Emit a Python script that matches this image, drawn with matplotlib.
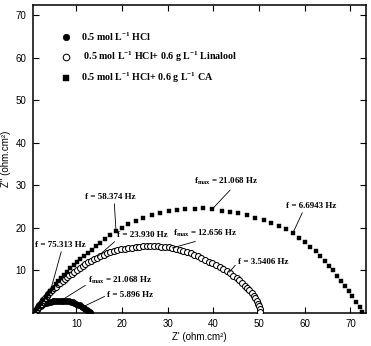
import matplotlib
matplotlib.use("Agg")
import matplotlib.pyplot as plt

plt.rcParams['mathtext.fontset'] = 'custom'
plt.rcParams['mathtext.rm'] = 'Liberation Serif:bold'
plt.rcParams['mathtext.bf'] = 'Liberation Serif:bold'
plt.rcParams['mathtext.it'] = 'Liberation Serif:bold'
plt.rcParams['mathtext.default'] = 'bf'

# ---------------- data ----------------
hcl_x = [1.0, 1.3, 1.6, 1.9, 2.2, 2.5, 2.8, 3.2, 3.6, 4.0, 4.4, 4.8, 5.2, 5.6, 6.0, 6.4, 6.8,
         7.2, 7.6, 8.0, 8.4, 8.8, 9.2, 9.6, 10.0, 10.4, 10.8, 11.2, 11.6, 12.0, 12.3, 12.6, 12.9, 13.1]
hcl_y = [0.2, 0.6, 0.95, 1.25, 1.5, 1.75, 1.95, 2.15, 2.3, 2.45, 2.55, 2.65, 2.7, 2.75, 2.78, 2.8, 2.8,
         2.78, 2.75, 2.7, 2.62, 2.52, 2.4, 2.25, 2.08, 1.88, 1.65, 1.4, 1.12, 0.82, 0.58, 0.35, 0.12, 0.0]

lin_x = [1.0, 1.3, 1.6, 1.9, 2.2, 2.5, 2.8, 3.1, 3.5, 3.9, 4.3, 4.7, 5.1, 5.5, 6.0, 6.5, 7.0,
         7.5, 8.0, 8.5, 9.0, 9.6, 10.2, 10.8, 11.4, 12.0, 12.6, 13.2, 13.9, 14.6, 15.3, 16.0,
         16.7, 17.4, 18.2, 19.0, 19.8, 20.6, 21.4, 22.2, 23.0, 23.8, 24.6, 25.4, 26.2, 27.0,
         27.8, 28.6, 29.4, 30.2, 31.0, 31.8, 32.6, 33.4, 34.2, 35.0, 35.8, 36.6, 37.4, 38.2,
         39.0, 39.8, 40.6, 41.4, 42.2, 43.0, 43.7, 44.4, 45.1, 45.7, 46.3, 46.9, 47.4, 47.9,
         48.4, 48.8, 49.2, 49.5, 49.8, 50.0, 50.2, 50.3]
lin_y = [0.3, 0.75, 1.2, 1.65, 2.1, 2.55, 2.95, 3.3, 3.8, 4.3, 4.75, 5.2, 5.7, 6.1, 6.6, 7.05, 7.5,
         7.9, 8.3, 8.75, 9.1, 9.55, 10.05, 10.5, 10.95, 11.4, 11.8, 12.15, 12.6, 12.95, 13.3, 13.6,
         13.9, 14.15, 14.4, 14.65, 14.85, 15.0, 15.15, 15.3, 15.4, 15.5, 15.55, 15.6, 15.6, 15.6,
         15.55, 15.5, 15.45, 15.35, 15.2, 15.0, 14.75, 14.5, 14.2, 13.9, 13.6, 13.2, 12.8, 12.4,
         12.0, 11.6, 11.1, 10.65, 10.2, 9.7, 9.2, 8.7, 8.1, 7.55, 7.0, 6.35, 5.8, 5.2,
         4.6, 4.0, 3.4, 2.8, 2.1, 1.5, 0.8, 0.2]

ca_x = [1.0, 1.4, 1.8, 2.3, 2.8, 3.3, 3.8, 4.3, 4.9, 5.5, 6.1, 6.7, 7.3, 8.0, 8.7, 9.4, 10.1,
        10.8, 11.6, 12.5, 13.4, 14.3, 15.2, 16.3, 17.4, 18.7, 19.9, 21.4, 23.1, 24.7, 26.5,
        28.3, 30.2, 32.0, 33.8, 35.9, 37.8, 39.8, 41.8, 43.6, 45.4, 47.3, 49.2, 51.0, 52.7,
        54.4, 56.0, 57.4, 58.8, 60.0, 61.2, 62.4, 63.4, 64.4, 65.2, 66.2, 67.0, 68.0, 68.9,
        69.7, 70.4, 71.3, 72.0, 72.5]
ca_y = [0.3, 0.9, 1.5, 2.2, 2.9, 3.6, 4.3, 5.0, 5.8, 6.6, 7.4, 8.1, 8.8, 9.6, 10.4, 11.1, 11.8,
        12.5, 13.2, 14.0, 14.8, 15.6, 16.4, 17.2, 18.2, 19.1, 20.0, 20.8, 21.6, 22.3, 23.0,
        23.5, 23.9, 24.2, 24.3, 24.4, 24.5, 24.4, 24.0, 23.7, 23.4, 22.9, 22.3, 21.7, 21.0,
        20.4, 19.6, 18.7, 17.5, 16.5, 15.5, 14.4, 13.4, 12.2, 11.0, 9.9, 8.7, 7.5, 6.2,
        5.0, 3.8, 2.4, 1.3, 0.2]

labels = [r"0.5 mol L$^{-1}$ HCl",
          r" 0.5 mol L$^{-1}$ HCl+ 0.6 g L$^{-1}$ Linalool",
          r"0.5 mol L$^{-1}$ HCl+ 0.6 g L$^{-1}$ CA"]

xticks = [10, 20, 30, 40, 50, 60, 70]
yticks = [10, 20, 30, 40, 50, 60, 70]

# annotations: (text, target point, text position, relpos)
annots = [
    (r"f = 58.374 Hz", (18.7, 19.1), (12.0, 27.2), (0.57, 0.0)),
    (r"f$_{max}$ = 21.068 Hz", (39.8, 24.4), (35.8, 30.8), (0.6, 0.0)),
    (r"f = 6.6943 Hz", (57.4, 18.7), (55.9, 25.1), (0.35, 0.0)),
    (r"f = 75.313 Hz", (4.3, 4.9), (1.0, 15.9), (0.53, 0.0)),
    (r"f = 23.930 Hz", (14.6, 13.1), (19.0, 18.2), (0.0, 0.0)),
    (r"f$_{max}$ = 12.656 Hz", (31.0, 15.2), (31.2, 18.7), (0.5, 0.0)),
    (r"f = 3.5406 Hz", (43.5, 9.5), (45.4, 11.9), (0.0, 0.5)),
    (r"f$_{max}$ = 21.068 Hz", (6.8, 2.9), (12.6, 7.6), (0.0, 0.2)),
    (r"f = 5.896 Hz", (11.6, 1.4), (16.8, 4.1), (0.0, 0.5)),
]

# ---------------- figure ----------------
fig = plt.figure(figsize=(3.71, 3.46), dpi=100)
ax = fig.add_axes([0.0898, 0.0968, 0.8967, 0.8887])

h1, = ax.plot(hcl_x, hcl_y, 'o', color='black', ms=4.2, mec='black', mew=0.5, zorder=3)
h2, = ax.plot(lin_x, lin_y, 'o', color='white', ms=4.3, mec='black', mew=0.75, zorder=4)
h3, = ax.plot(ca_x, ca_y, 's', color='black', ms=3.4, mec='black', mew=0.3, zorder=5)

ax.set_xlim(0.6, 73.4)
ax.set_ylim(0.0, 72.4)
ax.set_xticks(xticks)
ax.set_yticks(yticks)
ax.tick_params(direction='in', top=True, right=True, length=4.5, width=0.8,
               labelsize=7, pad=5)
for lab in ax.get_xticklabels() + ax.get_yticklabels():
    lab.set_fontfamily('Liberation Sans')
for s in ax.spines.values():
    s.set_linewidth(1.1)

ax.set_xlabel("Z' (ohm.cm\u00b2)", fontsize=7, family='Liberation Sans', labelpad=2)
ax.set_ylabel('Z" (ohm.cm\u00b2)', fontsize=7, family='Liberation Sans', labelpad=3)

leg = ax.legend([h1, h2, h3], labels, loc='upper left', bbox_to_anchor=(0.082, 0.918),
                frameon=False, borderpad=0, borderaxespad=0, handlelength=1.0,
                handletextpad=1.0, labelspacing=0.7, markerscale=1.1,
                prop={'family': 'Liberation Serif', 'weight': 'bold', 'size': 7.2})

for txt, xy, xyt, rp in annots:
    ax.annotate(txt, xy=xy, xytext=xyt, ha='left', va='center',
                fontsize=6.5, family='Liberation Serif', weight='bold',
                arrowprops=dict(arrowstyle='-', lw=0.6, color='black', relpos=rp,
                                shrinkA=0, shrinkB=0), zorder=6)

fig.savefig('out.png', dpi=100)
